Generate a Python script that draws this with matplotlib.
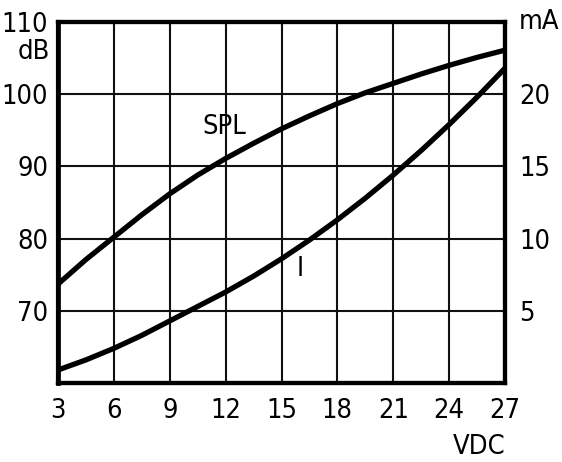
import matplotlib
matplotlib.use("Agg")
import matplotlib.pyplot as plt

plt.rcParams['font.family'] = ['DejaVu Sans']
plt.rcParams['font.stretch'] = 'condensed'

# supply voltage (VDC)
volts = [3, 4.5, 6, 7.5, 9, 10.5, 12, 13.5, 15, 16.5, 18, 19.5, 21, 22.5, 24, 25.5, 27]
# sound pressure level (dB), left axis
spl_db = [73.7, 77.1, 80.2, 83.3, 86.2, 88.8, 91.1, 93.2, 95.2, 97.0, 98.7, 100.2,
          101.5, 102.8, 104.0, 105.1, 106.1]
# current draw (mA), right axis
current_ma = [0.9, 1.6, 2.4, 3.3, 4.3, 5.3, 6.3, 7.4, 8.6, 9.9, 11.3, 12.8,
              14.4, 16.1, 17.9, 19.8, 21.8]

x_ticks = [3, 6, 9, 12, 15, 18, 21, 24, 27]
db_ticks = [70, 80, 90, 100, 110]
ma_ticks = [5, 10, 15, 20]

fs = 19.5

fig = plt.figure(figsize=(5.62, 4.62), dpi=100)
ax = fig.add_axes([58 / 562, 79 / 462, 447 / 562, 361 / 462])
ax2 = ax.twinx()

ax.set_xlim(3, 27)
ax.set_ylim(60, 110)
ax2.set_ylim(0, 25)

# grid
for v in x_ticks:
    ax.axvline(v, color='#111111', lw=1.5, zorder=1)
for d in range(60, 111, 10):
    ax.axhline(d, color='#111111', lw=1.5, zorder=1)

ax.plot(volts, spl_db, color='black', lw=3.8, zorder=3)
ax2.plot(volts, current_ma, color='black', lw=3.8, zorder=3)

ax.text(11.9, 95.5, 'SPL', fontsize=fs, ha='center', va='center')
ax2.text(16.0, 7.9, 'I', fontsize=fs, ha='center', va='center')

ax.set_xticks(x_ticks)
ax.set_yticks(db_ticks)
ax2.set_yticks(ma_ticks)
ax.tick_params(axis='both', length=0, labelsize=fs)
ax.tick_params(axis='x', pad=11)
ax.tick_params(axis='y', pad=7)
ax2.tick_params(axis='y', length=0, labelsize=fs, pad=10)

for a in (ax, ax2):
    for s in a.spines.values():
        s.set_linewidth(3.0)
        s.set_zorder(4)
ax.spines['left'].set_linewidth(3.4)

ax.annotate('dB', xy=(0, 105.8), xycoords=ax.get_yaxis_transform(),
            xytext=(-6, 0), textcoords='offset points', ha='right', va='center', fontsize=fs)
ax2.annotate('mA', xy=(1, 25), xycoords=ax2.get_yaxis_transform(),
             xytext=(10, 0), textcoords='offset points', ha='left', va='center', fontsize=fs)
ax.annotate('VDC', xy=(25.6, 0), xycoords=ax.get_xaxis_transform(),
            xytext=(0, -46), textcoords='offset points', ha='center', va='center', fontsize=fs)

fig.savefig('out.png', dpi=100)
